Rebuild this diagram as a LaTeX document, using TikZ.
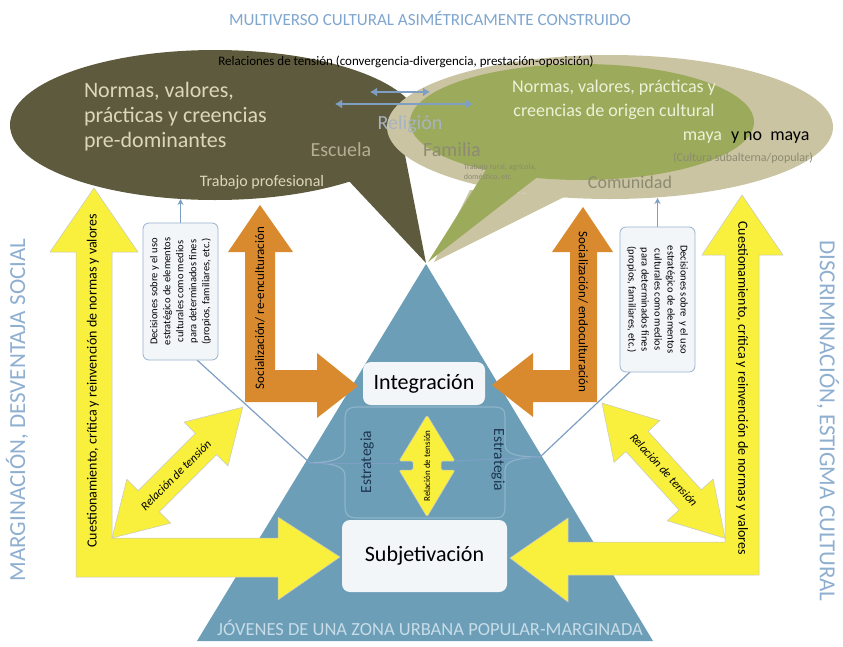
\documentclass[tikz,border=0pt]{standalone}
\usepackage{fontspec}
\setmainfont{Carlito}
\usetikzlibrary{arrows.meta,calc}
\definecolor{darkolive}{HTML}{5E5A3D}
\definecolor{beige}{HTML}{CBC4A3}
\definecolor{olivegreen}{HTML}{9CAB5B}
\definecolor{triblue}{HTML}{6C9EB8}
\definecolor{frameline}{HTML}{8DB4C9}
\definecolor{lineblue}{HTML}{7E9FC3}
\definecolor{titleblue}{HTML}{7FA6CF}
\definecolor{sideblue}{HTML}{8FAFD0}
\definecolor{yell}{HTML}{F8F03C}
\definecolor{orng}{HTML}{D98A2E}
\definecolor{lighttxt}{HTML}{DCD7BA}
\definecolor{greentxt}{HTML}{EEF1D8}
\definecolor{graytxt}{HTML}{8C8A70}
\definecolor{esctxt}{HTML}{B3AE95}
\definecolor{reltxt}{HTML}{A7B3BF}
\definecolor{famtxt}{HTML}{8E8B72}
\definecolor{boxfill}{HTML}{F3F6F9}
\definecolor{navy}{HTML}{1E3550}
\definecolor{jovtxt}{HTML}{C7DCE7}
\newcommand\fs[2]{\fontsize{#1}{#2}\selectfont}
\begin{document}
\begin{tikzpicture}[x=1pt,y=-1pt,
  every node/.style={inner sep=0pt, outer sep=0pt},
  ylw/.style={fill=yell, draw=black!22, line width=0.5pt},
  org/.style={fill=orng},
  thinblue/.style={draw=lineblue, line width=1.2pt},
  dbox/.style={draw=lineblue!80, fill=boxfill, rounded corners=6pt, line width=0.8pt, align=center, font=\fs{10.5}{13}},
  mainbox/.style={fill=boxfill, rounded corners=8pt, font=\fs{22}{26}},
  bluearrow/.style={lineblue, line width=2.5pt, {Latex[length=7pt,width=9pt]}-{Latex[length=7pt,width=9pt]}},
]
\useasboundingbox (0,0) rectangle (843,646);
\fill[white] (0,0) rectangle (843,646);

% triangle
\fill[triblue] (426,264) -- (653,641) -- (197,641) -- cycle;

% speech bubbles
\fill[darkolive] (215,125) ellipse [x radius=205pt, y radius=75pt];
\fill[darkolive] (348,180) -- (426,263) -- (404,150) -- cycle;
\fill[beige] (610,127) ellipse [x radius=223pt, y radius=72pt];
\fill[beige] (470,190) -- (434,262) -- (566,196) -- cycle;
\fill[olivegreen] (582,122) ellipse [x radius=172pt, y radius=58pt];
\fill[olivegreen] (487,168) -- (428,262) -- (540,175) -- cycle;

% blue double arrows between bubbles
\coordinate (a1l) at (370,92); \coordinate (a1r) at (430,92);
\coordinate (a2l) at (335,104); \coordinate (a2r) at (473,104);
\draw[bluearrow] (a1l) -- (a1r);
\draw[bluearrow] (a2l) -- (a2r);

% big yellow L arrows
\path[ylw] (94,188) -- (138,252) -- (112,252) -- (112,538) -- (278,538) -- (278,517) -- (340,557) -- (278,600) -- (278,577) -- (76,577) -- (76,252) -- (50,252) -- cycle;
\path[ylw] (742,195) -- (783,255) -- (759,255) -- (759,575) -- (568,575) -- (568,602) -- (510,558) -- (568,518) -- (568,542) -- (725,542) -- (725,255) -- (702,255) -- cycle;

% orange L arrows
\path[org] (260,205) -- (293,252) -- (275,252) -- (275,370) -- (317,370) -- (317,353) -- (358,386) -- (317,418) -- (317,402) -- (245,402) -- (245,252) -- (228,252) -- cycle;
\path[org] (583,207) -- (613,252) -- (597,252) -- (597,402) -- (533,402) -- (533,417) -- (492,385) -- (533,353) -- (533,370) -- (570,370) -- (570,252) -- (552,252) -- cycle;

% diagonal yellow double arrows
\begin{scope}[shift={(112,538)}, rotate=45]
\path[ylw] (0,0) -- (52,31) -- (52,15) -- (133,15) -- (133,31) -- (185,0) -- (133,-31) -- (133,-15) -- (52,-15) -- (52,-31) -- cycle;
\end{scope}
\begin{scope}[shift={(602,403)}, rotate=-47.7]
\path[ylw] (0,0) -- (52,31) -- (52,15) -- (131,15) -- (131,31) -- (183,0) -- (131,-31) -- (131,-15) -- (52,-15) -- (52,-31) -- cycle;
\end{scope}

% thin lines from decision boxes to brace tips
\coordinate (dlb) at (197,360); \coordinate (tipL) at (310,463);
\coordinate (drb) at (630,372); \coordinate (tipR) at (540,457);
\draw[thinblue] (dlb) -- (tipL);
\draw[thinblue] (drb) -- (tipR);

% strategy frame with braces
\draw[fill=triblue, draw=frameline, line width=1.2pt]
 (358,407) -- (492,407) .. controls (505,407) and (505,410) .. (505,422) -- (505,445)
 .. controls (505,455) and (520,457) .. (tipR) .. controls (520,458) and (505,460) .. (505,470)
 -- (505,505) .. controls (505,517) and (502,518) .. (492,518) -- (358,518)
 .. controls (348,518) and (345,515) .. (345,505) -- (345,476)
 .. controls (345,465) and (330,463) .. (tipL) .. controls (330,462) and (345,460) .. (345,448)
 -- (345,420) .. controls (345,410) and (348,407) .. (358,407) -- cycle;

\coordinate (cyl) at (400,463); \coordinate (cyr) at (455,461);
\draw[lineblue, line width=1pt, {Stealth[length=4pt]}-{Stealth[length=4pt]}] (tipL) -- (cyl);
\draw[lineblue, line width=1pt, {Stealth[length=4pt]}-{Stealth[length=4pt]}] (cyr) -- (tipR);

% central yellow up-down arrow
\path[ylw, rounded corners=1.5pt] (427,415) -- (455,461) -- (441,461) -- (441,470) -- (455,470) -- (427,517) -- (399,470) -- (413,470) -- (413,461) -- (399,461) -- cycle;

% main boxes
\node[mainbox, minimum width=122, minimum height=43] (integ) at (424,383.5) {Integración};
\node[mainbox, minimum width=165, minimum height=72] (subj) at (424.5,556) {Subjetivación};

% decision boxes
\node[dbox, rotate=90, minimum width=137, minimum height=75] (dl) at (180.5,291.5)
 {Decisiones sobre y el uso\\estratégico de elementos\\culturales como medios\\para determinados fines\\(propios, familiares, etc.)};
\node[dbox, rotate=-90, minimum width=145, minimum height=75] (dr) at (657.5,299.5)
 {Decisiones sobre \ y el uso\\estratégico de elementos\\culturales como medios\\para determinados fines\\(propios, familiares, etc.)};
\coordinate (bubL) at (180.5,199); \coordinate (bubR) at (657.5,198);
\draw[lineblue, line width=1.2pt, -{Stealth[length=6pt,width=6pt]}] (dl.east) -- (bubL);
\draw[lineblue, line width=1.2pt, -{Stealth[length=6pt,width=6pt]}] (dr.west) -- (bubR);

% texts
\node[text=titleblue, font=\fs{17}{20}] (title) at (430,18) {MULTIVERSO CULTURAL ASIMÉTRICAMENTE CONSTRUIDO};
\node[text=sideblue, font=\fs{23}{26}, rotate=90] (sideL) at (17,410) {MARGINACIÓN, DESVENTAJA SOCIAL};
\node[text=sideblue, font=\fs{23}{26}, rotate=-90] (sideR) at (828,421) {DISCRIMINACIÓN, ESTIGMA CULTURAL};
\node[font=\fs{13}{15}] (rel) at (406,62) {Relaciones de tensión (convergencia-divergencia, prestación-oposición)};

\node[text=lighttxt, font=\fs{22}{25}, anchor=base west] (n1) at (84,97) {Normas, valores,};
\node[text=lighttxt, font=\fs{22}{25}, anchor=base west] (n2) at (84,122) {prácticas y creencias};
\node[text=lighttxt, font=\fs{22}{25}, anchor=base west] (n3) at (84,147) {pre-dominantes};
\node[text=esctxt, font=\fs{20}{24}] (esc) at (341,150) {Escuela};
\node[text=reltxt, font=\fs{20}{24}] (rel2) at (410,124) {Religión};
\node[text=famtxt, font=\fs{20}{24}] (fam) at (452,150) {Familia};
\node[text=lighttxt, font=\fs{16}{19}] (tprof) at (262,182) {Trabajo profesional};
\node[text=graytxt, font=\fs{8}{9.5}, align=left] (trural) at (500,172) {Trabajo rural, agrícola,\\doméstico, etc.};
\node[text=graytxt, font=\fs{18}{21}] (com) at (630,182) {Comunidad};

\node[text=greentxt, font=\fs{18}{22}, anchor=base] (g1) at (614,92) {Normas, valores, prácticas y};
\node[text=greentxt, font=\fs{18}{22}, anchor=base] (g2) at (614,116) {creencias de origen cultural};
\node[text=greentxt, font=\fs{18}{22}, anchor=base east] (g3) at (722,140) {maya};
\node[text=black, font=\fs{18}{22}, anchor=base west] (g4) at (731,140) {y no \ maya};
\node[text=graytxt, font=\fs{12}{14}] (cult) at (743,158) {(Cultura subalterna/popular)};

\node[text=jovtxt, font=\fs{18.5}{22}] (jov) at (430,628) {JÓVENES DE UNA ZONA URBANA POPULAR-MARGINADA};

\node[font=\fs{14}{17}, rotate=90] (cuesL) at (93,381) {Cuestionamiento, crítica y reinvención de normas y valores};
\node[font=\fs{14}{17}, rotate=-90] (cuesR) at (742,388) {Cuestionamiento, crítica y reinvención de normas y valores};
\node[font=\fs{13}{15}, rotate=90] (socL) at (260,308) {Socialización/ re-enculturación};
\node[font=\fs{13}{15}, rotate=-90] (socR) at (583,312) {Socialización/ endoculturación};
\node[text=navy, font=\fs{15.5}{18}, rotate=90] (estL) at (367,462) {Estrategia};
\node[text=navy, font=\fs{15.5}{18}, rotate=-90] (estR) at (498,460) {Estrategia};
\node[font=\fs{9}{11}, rotate=90] (relc) at (427,466) {Relación de tensión};
\node[font=\fs{12}{14}\itshape, rotate=45] (relL) at (176,475) {Relación de tensión};
\node[font=\fs{12}{14}\itshape, rotate=-47.7] (relR) at (664,470) {Relación de tensión};
\end{tikzpicture}
\end{document}
